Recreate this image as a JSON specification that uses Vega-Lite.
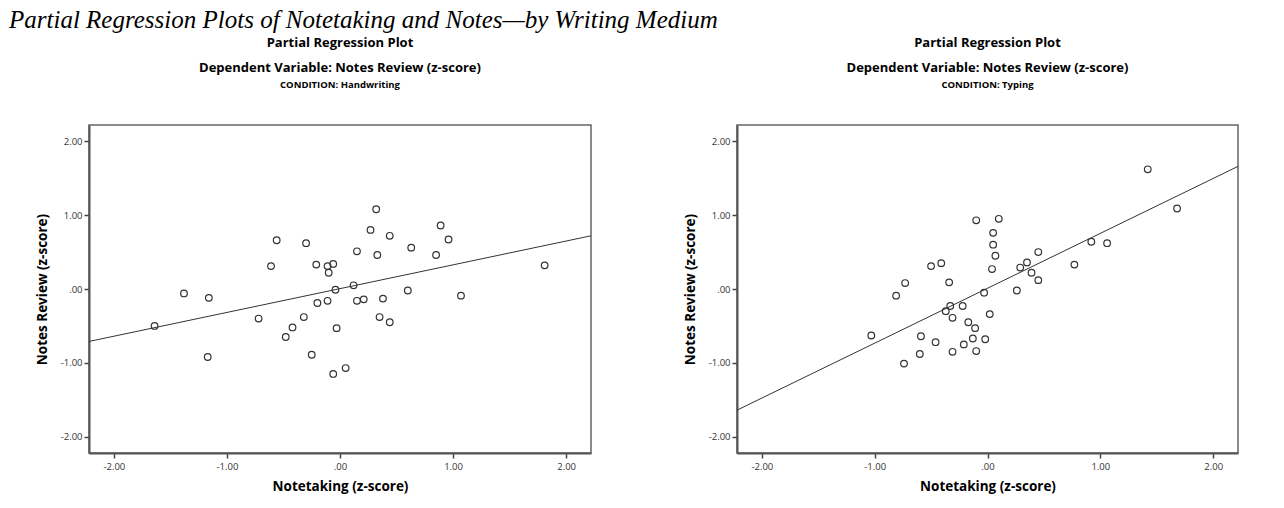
{
  "$schema": "https://vega.github.io/schema/vega-lite/v6.json",
  "background": "white",
  "padding": {"left": 9, "top": 7, "right": 10, "bottom": 0},
  "title": {
    "text": "Partial Regression Plots of Notetaking and Notes—by Writing Medium",
    "anchor": "start",
    "font": "Liberation Serif",
    "fontStyle": "italic",
    "fontWeight": "normal",
    "fontSize": 25,
    "color": "black",
    "offset": 3,
    "lineHeight": 25
  },
  "datasets": {
    "handwriting": [
      {"notetaking": 0.32, "review": 1.08}, {"notetaking": 0.27, "review": 0.80},
      {"notetaking": 0.44, "review": 0.72}, {"notetaking": 0.89, "review": 0.86},
      {"notetaking": 0.96, "review": 0.67}, {"notetaking": -0.56, "review": 0.66},
      {"notetaking": -0.30, "review": 0.62}, {"notetaking": 0.15, "review": 0.51},
      {"notetaking": 0.33, "review": 0.46}, {"notetaking": 0.63, "review": 0.56},
      {"notetaking": 0.85, "review": 0.46}, {"notetaking": -0.61, "review": 0.31},
      {"notetaking": -0.21, "review": 0.33}, {"notetaking": -0.11, "review": 0.31},
      {"notetaking": -0.06, "review": 0.34}, {"notetaking": -0.10, "review": 0.22},
      {"notetaking": -0.04, "review": -0.01}, {"notetaking": 0.12, "review": 0.05},
      {"notetaking": 0.60, "review": -0.02}, {"notetaking": 1.07, "review": -0.09},
      {"notetaking": -0.20, "review": -0.19}, {"notetaking": -0.11, "review": -0.16},
      {"notetaking": 0.15, "review": -0.16}, {"notetaking": 0.21, "review": -0.14},
      {"notetaking": 0.38, "review": -0.13}, {"notetaking": -0.72, "review": -0.40},
      {"notetaking": -0.32, "review": -0.38}, {"notetaking": -0.42, "review": -0.52},
      {"notetaking": -0.48, "review": -0.65}, {"notetaking": -0.03, "review": -0.53},
      {"notetaking": 0.35, "review": -0.38}, {"notetaking": 0.44, "review": -0.45},
      {"notetaking": -0.25, "review": -0.89}, {"notetaking": 0.05, "review": -1.07},
      {"notetaking": -0.06, "review": -1.15}, {"notetaking": -1.38, "review": -0.06},
      {"notetaking": -1.16, "review": -0.12}, {"notetaking": -1.64, "review": -0.50},
      {"notetaking": -1.17, "review": -0.92}, {"notetaking": 1.81, "review": 0.32}
    ],
    "typing": [
      {"notetaking": -0.10, "review": 0.93}, {"notetaking": 0.10, "review": 0.95},
      {"notetaking": 0.05, "review": 0.76}, {"notetaking": 0.05, "review": 0.60},
      {"notetaking": 0.07, "review": 0.45}, {"notetaking": 0.04, "review": 0.27},
      {"notetaking": -0.50, "review": 0.31}, {"notetaking": -0.41, "review": 0.35},
      {"notetaking": -0.73, "review": 0.08}, {"notetaking": -0.81, "review": -0.09},
      {"notetaking": -0.34, "review": 0.09}, {"notetaking": 0.45, "review": 0.50},
      {"notetaking": 0.35, "review": 0.36}, {"notetaking": 0.29, "review": 0.29},
      {"notetaking": 0.39, "review": 0.22}, {"notetaking": 0.45, "review": 0.12},
      {"notetaking": 0.26, "review": -0.02}, {"notetaking": -0.03, "review": -0.05},
      {"notetaking": 0.92, "review": 0.64}, {"notetaking": 0.77, "review": 0.33},
      {"notetaking": -0.33, "review": -0.23}, {"notetaking": -0.22, "review": -0.23},
      {"notetaking": -0.37, "review": -0.30}, {"notetaking": -0.31, "review": -0.39},
      {"notetaking": 0.02, "review": -0.34}, {"notetaking": -0.17, "review": -0.45},
      {"notetaking": -0.11, "review": -0.53}, {"notetaking": -0.13, "review": -0.67},
      {"notetaking": -0.02, "review": -0.68}, {"notetaking": -0.21, "review": -0.75},
      {"notetaking": -0.10, "review": -0.84}, {"notetaking": -0.31, "review": -0.85},
      {"notetaking": -0.59, "review": -0.64}, {"notetaking": -0.46, "review": -0.72},
      {"notetaking": -0.60, "review": -0.88}, {"notetaking": -0.74, "review": -1.01},
      {"notetaking": -1.03, "review": -0.63}, {"notetaking": 1.42, "review": 1.62},
      {"notetaking": 1.68, "review": 1.09}, {"notetaking": 1.06, "review": 0.62}
    ],
    "fit_handwriting": [
      {"notetaking": -2.22, "review": -0.71},
      {"notetaking": 2.22, "review": 0.72}
    ],
    "fit_typing": [
      {"notetaking": -2.22, "review": -1.64},
      {"notetaking": 2.22, "review": 1.66}
    ]
  },
  "spacing": 88,
  "hconcat": [
    {
      "spacing": 24,
      "hconcat": [
        {
          "width": 1,
          "height": 1,
          "view": {"stroke": null},
          "data": {"values": []},
          "mark": {"type": "point", "opacity": 0},
          "encoding": {}
        },
        {
          "width": 502,
          "height": 328,
          "title": {
            "text": ["Partial Regression Plot", "Dependent Variable: Notes Review (z-score)"],
            "subtitle": "CONDITION: Handwriting"
          },
          "layer": [
            {
              "data": {"name": "handwriting"},
              "mark": {"type": "point", "shape": "circle", "filled": false, "size": 44, "stroke": "#333333", "strokeWidth": 1.2, "opacity": 1},
              "encoding": {
                "x": {"field": "notetaking", "type": "quantitative", "title": "Notetaking (z-score)",
                      "scale": {"domain": [-2.22, 2.22], "nice": false, "zero": false},
                      "axis": {"values": [-2, -1, 0, 1, 2]}},
                "y": {"field": "review", "type": "quantitative", "title": "Notes Review (z-score)",
                      "scale": {"domain": [-2.22, 2.22], "nice": false, "zero": false},
                      "axis": {"values": [-2, -1, 0, 1, 2]}}
              }
            },
            {
              "data": {"name": "fit_handwriting"},
              "mark": {"type": "line", "color": "#333333", "strokeWidth": 1},
              "encoding": {
                "x": {"field": "notetaking", "type": "quantitative"},
                "y": {"field": "review", "type": "quantitative"}
              }
            }
          ]
        }
      ]
    },
    {
      "width": 501,
      "height": 328,
      "title": {
        "text": ["Partial Regression Plot", "Dependent Variable: Notes Review (z-score)"],
        "subtitle": "CONDITION: Typing"
      },
      "layer": [
        {
          "data": {"name": "typing"},
          "mark": {"type": "point", "shape": "circle", "filled": false, "size": 44, "stroke": "#333333", "strokeWidth": 1.2, "opacity": 1},
          "encoding": {
            "x": {"field": "notetaking", "type": "quantitative", "title": "Notetaking (z-score)",
                  "scale": {"domain": [-2.22, 2.22], "nice": false, "zero": false},
                  "axis": {"values": [-2, -1, 0, 1, 2]}},
            "y": {"field": "review", "type": "quantitative", "title": "Notes Review (z-score)",
                  "scale": {"domain": [-2.22, 2.22], "nice": false, "zero": false},
                  "axis": {"values": [-2, -1, 0, 1, 2]}}
          }
        },
        {
          "data": {"name": "fit_typing"},
          "mark": {"type": "line", "color": "#333333", "strokeWidth": 1},
          "encoding": {
            "x": {"field": "notetaking", "type": "quantitative"},
            "y": {"field": "review", "type": "quantitative"}
          }
        }
      ]
    }
  ],
  "config": {
    "view": {"stroke": "#666666", "strokeWidth": 1.5},
    "title": {
      "font": "Open Sans",
      "fontSize": 13,
      "fontWeight": "bold",
      "color": "black",
      "lineHeight": 25,
      "anchor": "middle",
      "subtitleFont": "Open Sans",
      "subtitleFontSize": 9.5,
      "subtitleFontWeight": "bold",
      "subtitleColor": "black",
      "subtitlePadding": 5,
      "offset": 36
    },
    "axis": {
      "grid": false,
      "labelExpr": "datum.value === 0 ? '.00' : replace(format(datum.value, '.2f'), '\u2212', '-')",
      "labelFont": "Open Sans",
      "labelFontSize": 9.5,
      "labelColor": "#333333",
      "tickColor": "#444444",
      "tickSize": 5,
      "tickWidth": 1.5,
      "domainColor": "#555555",
      "domainWidth": 2,
      "titleFont": "Open Sans",
      "titleFontSize": 13.5,
      "titleFontWeight": "bold",
      "titleColor": "black"
    },
    "axisX": {"labelPadding": 3, "titlePadding": 9},
    "axisY": {"labelPadding": 2, "titlePadding": 11}
  }
}
